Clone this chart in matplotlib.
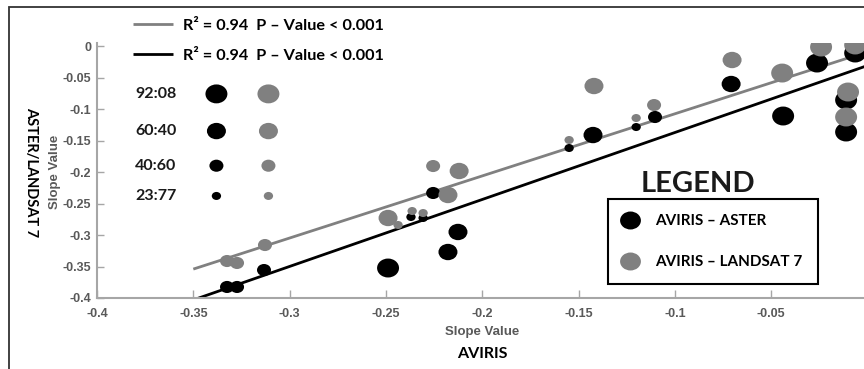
import matplotlib
matplotlib.use("Agg")
import matplotlib.pyplot as plt
from matplotlib.path import Path
from matplotlib.transforms import Affine2D
from matplotlib.lines import Line2D
from matplotlib.patches import Rectangle
import numpy as np

# ---------------- data ----------------
size_classes = ["92:08", "60:40", "40:60", "23:77"]
size_values = [250, 187, 102, 45]          # marker area per class

aster_x = [-0.3325, -0.3273, -0.3133, -0.2489, -0.2370, -0.2307, -0.2255, -0.2126,
           -0.2178, -0.1549, -0.1425, -0.1201, -0.1103, -0.0708, -0.0438, -0.0262,
           -0.0064, -0.0111, -0.0111]
aster_y = [-0.3825, -0.3825, -0.3556, -0.3524, -0.2714, -0.2730, -0.2333, -0.2952,
           -0.3270, -0.1619, -0.1413, -0.1286, -0.1127, -0.0603, -0.1111, -0.0270,
           -0.0111, -0.0857, -0.1365]
aster_cls = ["40:60", "40:60", "40:60", "92:08", "23:77", "23:77", "40:60", "60:40",
             "60:40", "23:77", "60:40", "23:77", "40:60", "60:40", "92:08", "92:08",
             "92:08", "92:08", "92:08"]

landsat_x = [-0.3325, -0.3273, -0.3128, -0.2489, -0.2437, -0.2364, -0.2307, -0.2255,
             -0.2120, -0.2178, -0.1549, -0.1420, -0.1201, -0.1108, -0.0703, -0.0443,
             -0.0241, -0.0064, -0.0101, -0.0111]
landsat_y = [-0.3413, -0.3444, -0.3159, -0.2730, -0.2841, -0.2619, -0.2651, -0.1905,
             -0.1984, -0.2365, -0.1492, -0.0635, -0.1143, -0.0937, -0.0222, -0.0429,
             -0.0016, 0.0016, -0.0730, -0.1127]
landsat_cls = ["40:60", "40:60", "40:60", "60:40", "23:77", "23:77", "23:77", "40:60",
               "60:40", "60:40", "23:77", "60:40", "23:77", "40:60", "60:40", "92:08",
               "92:08", "92:08", "92:08", "92:08"]

# regression fits (slope, intercept) and x range
fit_x_range = [-0.35, 0.0]
aster_fit = (1.063, -0.031)
landsat_fit = (0.986, -0.009)
fit_label = "R\u00b2 = 0.94  P \u2013 Value < 0.001"

# size key
key_x_aster = -0.338
key_x_landsat = -0.311
key_y = [-0.076, -0.135, -0.190, -0.238]

x_ticks = [-0.4, -0.35, -0.3, -0.25, -0.2, -0.15, -0.1, -0.05]
y_ticks = [0, -0.05, -0.1, -0.15, -0.2, -0.25, -0.3, -0.35, -0.4]

BLACK = "#000000"
GRAY = "#808080"
AXC = "#a6a6a6"
TXC = "#595959"
TXT_FONT = "Lato"
AX_FONT = "Liberation Sans"

# ellipse marker
ell = Path.unit_circle().transformed(Affine2D().scale(1.16, 1.0))

W, H = 864, 369
fig = plt.figure(figsize=(W / 100, H / 100), dpi=100)
ax = fig.add_axes([97 / W, 1 - 298 / H, (867.5 - 97) / W, (298 - 43) / H])
ax.set_xlim(-0.4, 0.0)
ax.set_ylim(-0.4, 0.0048)

smap = dict(zip(size_classes, size_values))

# fit lines
fx = np.array(fit_x_range)
ln_g, = ax.plot(fx, landsat_fit[0] * fx + landsat_fit[1], color=GRAY, lw=2.0, zorder=1,
                solid_capstyle="butt")
ln_b, = ax.plot(fx, aster_fit[0] * fx + aster_fit[1], color=BLACK, lw=2.0, zorder=1,
                solid_capstyle="butt")

ax.scatter(aster_x, aster_y, s=[smap[c] for c in aster_cls], marker=ell, color=BLACK,
           linewidths=0, zorder=2)
ax.scatter(landsat_x, landsat_y, s=[smap[c] for c in landsat_cls], marker=ell, color=GRAY,
           linewidths=0, zorder=3)

# size key
ax.scatter([key_x_aster] * len(key_y), key_y, s=size_values, marker=ell, color=BLACK,
           linewidths=0, zorder=2)
ax.scatter([key_x_landsat] * len(key_y), key_y, s=size_values, marker=ell, color=GRAY,
           linewidths=0, zorder=2)
for lab, yy in zip(size_classes, key_y):
    ax.text(-0.3695, yy, lab, ha="center", va="center", fontsize=11.5,
            fontweight="bold", family=TXT_FONT, color="#1a1a1a")

# axes styling
for s in ["top", "right"]:
    ax.spines[s].set_visible(False)
for s in ["left", "bottom"]:
    ax.spines[s].set_color(AXC)
    ax.spines[s].set_linewidth(1.5)
ax.set_xticks(x_ticks)
ax.set_yticks(y_ticks)
ax.set_xticklabels([f"{v:g}" for v in x_ticks])
ax.set_yticklabels([f"{v:g}" if v != 0 else "0" for v in y_ticks])
ax.tick_params(axis="x", direction="in", length=6, width=1, color=AXC, pad=7,
               labelsize=9, labelcolor=TXC)
ax.tick_params(axis="y", direction="in", length=5, width=1, color=AXC, pad=4,
               labelsize=9, labelcolor=TXC)
for t in ax.get_xticklabels() + ax.get_yticklabels():
    t.set_fontweight("bold")
    t.set_family(AX_FONT)

# axis titles
fig.text(55 / W, 1 - 172 / H, "Slope Value", rotation=90, ha="center", va="center",
         fontsize=9.5, fontweight="bold", family=AX_FONT, color=TXC)
fig.text(31 / W, 1 - 172 / H, "ASTER/LANDSAT 7", rotation=270, ha="center", va="center",
         fontsize=10.5, fontweight="bold", family=TXT_FONT, color=BLACK)
fig.text(482 / W, 1 - 332 / H, "Slope Value", ha="center", va="center",
         fontsize=9.5, fontweight="bold", family=AX_FONT, color=TXC)
fig.text(482 / W, 1 - 354 / H, "AVIRIS", ha="center", va="center",
         fontsize=11.5, fontweight="bold", family=TXT_FONT, color=BLACK)

# fit-line legend
leg1 = ax.legend([ln_g, ln_b], [fit_label, fit_label], loc="upper left",
                 bbox_to_anchor=(133 / W, 1 - 18.5 / H), bbox_transform=fig.transFigure,
                 frameon=False, borderpad=0, borderaxespad=0, handlelength=2.45,
                 handletextpad=0.62, labelspacing=0.98,
                 prop={"family": TXT_FONT, "weight": "bold", "size": 11.7})
ax.add_artist(leg1)

# series legend box
h_b = Line2D([], [], ls="none", marker=ell, markersize=15, color=BLACK, mew=0)
h_g = Line2D([], [], ls="none", marker=ell, markersize=15, color=GRAY, mew=0)
leg2 = ax.legend([h_b, h_g], ["AVIRIS \u2013 ASTER", "AVIRIS \u2013 LANDSAT 7"],
                 loc="upper left", bbox_to_anchor=(608 / W, 1 - 199 / H),
                 bbox_transform=fig.transFigure, frameon=True, fancybox=False,
                 edgecolor=BLACK, framealpha=1, borderpad=1.0, borderaxespad=0,
                 handlelength=0.88, handletextpad=1.2, labelspacing=1.75,
                 prop={"family": TXT_FONT, "weight": "bold", "size": 11})
leg2.get_frame().set_linewidth(1.5)
fig.text(698 / W, 1 - 184 / H, "LEGEND", ha="center", va="center", fontsize=21,
         fontweight="bold", family=TXT_FONT, color="#1a1a1a")

# outer frame
fig.add_artist(Rectangle((9 / W, -0.2), 1.2, 1.2 - 7 / H, transform=fig.transFigure,
                         fill=False, ec="#333333", lw=1.3))

fig.savefig("out.png", dpi=100)
